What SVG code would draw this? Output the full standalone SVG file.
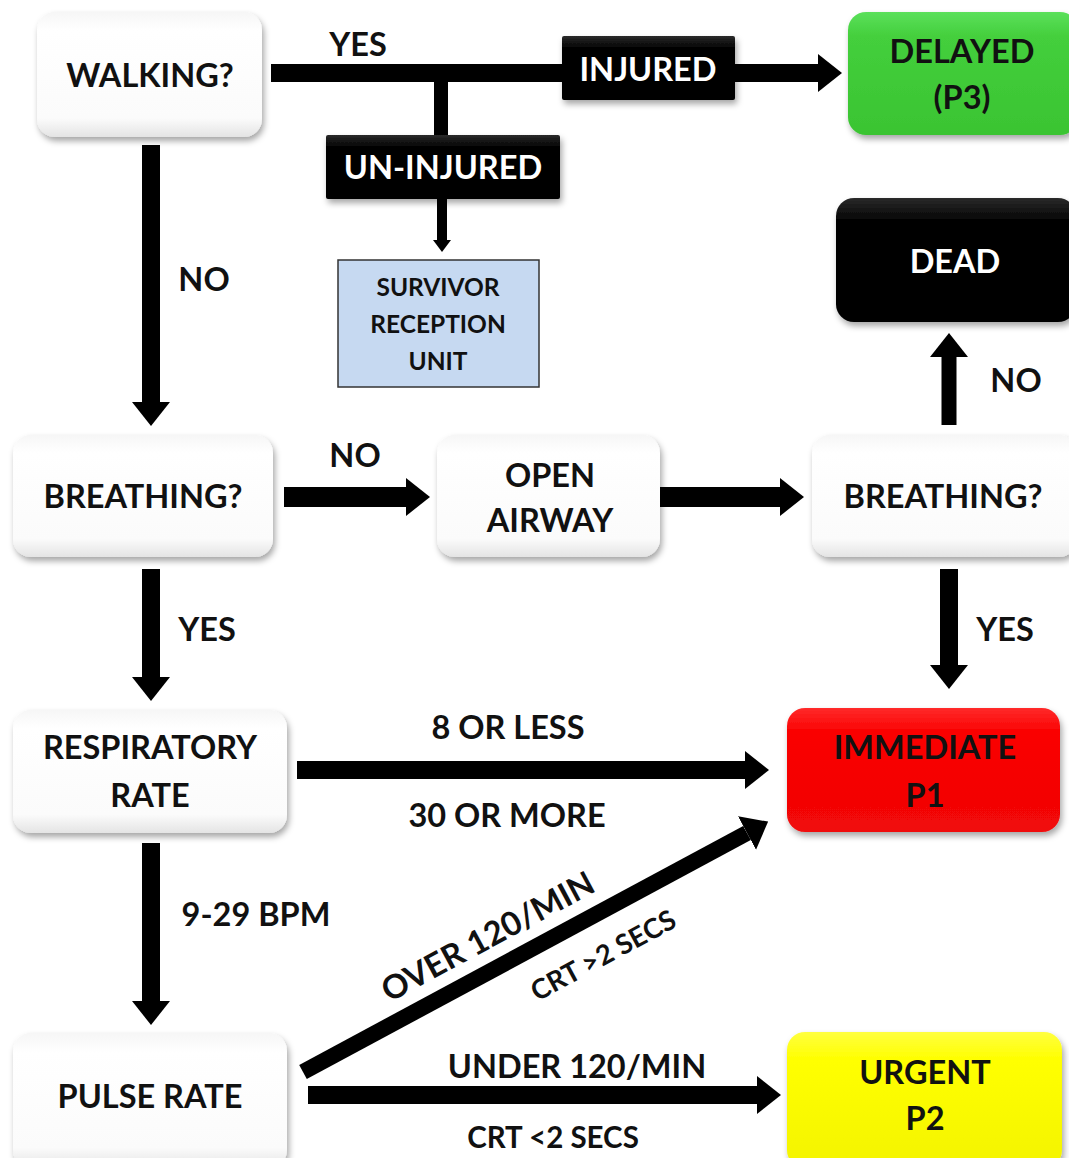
<svg xmlns="http://www.w3.org/2000/svg" width="1069" height="1158" viewBox="0 0 1069 1158">
<defs>
<style>
text{font-family:Lato,"Open Sans","Liberation Sans",sans-serif;fill:#111;text-anchor:middle;font-weight:bold}
.t{font-size:32.5px}
.lbl{font-size:32.5px}
.sm{font-size:29.5px}
.su{font-size:24.5px}
.dg{font-size:33px}
.dgs{font-size:27.5px}
.w{fill:#fff}
.box{fill:url(#gWhite);filter:url(#sh)}
.blk{fill:url(#gBlack);filter:url(#sh)}
.ln{stroke:#000;fill:none;stroke-width:18}
</style>
<linearGradient id="gWhite" x1="0" y1="0" x2="0" y2="1">
<stop offset="0" stop-color="#f6f6f6"/><stop offset="0.15" stop-color="#ffffff"/><stop offset="0.85" stop-color="#fbfbfb"/><stop offset="1" stop-color="#e4e4e4"/>
</linearGradient>
<linearGradient id="gBlack" x1="0" y1="0" x2="0" y2="1">
<stop offset="0" stop-color="#2a2a2a"/><stop offset="0.2" stop-color="#000"/><stop offset="1" stop-color="#050505"/>
</linearGradient>
<linearGradient id="gGreen" x1="0" y1="0" x2="0" y2="1">
<stop offset="0" stop-color="#5be05b"/><stop offset="0.2" stop-color="#44cf3c"/><stop offset="1" stop-color="#3ac432"/>
</linearGradient>
<linearGradient id="gRed" x1="0" y1="0" x2="0" y2="1">
<stop offset="0" stop-color="#ff2a2a"/><stop offset="0.2" stop-color="#fa0000"/><stop offset="1" stop-color="#f00808"/>
</linearGradient>
<linearGradient id="gYellow" x1="0" y1="0" x2="0" y2="1">
<stop offset="0" stop-color="#ffff40"/><stop offset="0.2" stop-color="#ffff00"/><stop offset="1" stop-color="#f4f400"/>
</linearGradient>
<filter id="sh" x="-10%" y="-10%" width="120%" height="130%">
<feDropShadow dx="2" dy="4" stdDeviation="3" flood-color="#000" flood-opacity="0.35"/>
</filter>
<marker id="ah" markerUnits="userSpaceOnUse" markerWidth="26" markerHeight="40" refX="0" refY="19" orient="auto">
<path d="M0,0 L24,19 L0,38 Z" fill="#000"/>
</marker>
<marker id="ahs" markerUnits="userSpaceOnUse" markerWidth="14" markerHeight="20" refX="0" refY="9" orient="auto">
<path d="M0,0 L12,9 L0,18 Z" fill="#000"/>
</marker>
</defs>
<rect width="1069" height="1158" fill="#fff"/>

<g id="connectors">
<line class="ln" x1="271" y1="73" x2="818" y2="73" marker-end="url(#ah)"/>
<line class="ln" x1="441" y1="73" x2="441" y2="137" style="stroke-width:14"/>
<line class="ln" x1="442" y1="199" x2="442" y2="240" style="stroke-width:10" marker-end="url(#ahs)"/>
<line class="ln" x1="151" y1="145" x2="151" y2="402" marker-end="url(#ah)"/>
<line class="ln" x1="284" y1="497" x2="406" y2="497" style="stroke-width:20" marker-end="url(#ah)"/>
<line class="ln" x1="659" y1="497" x2="780" y2="497" style="stroke-width:20" marker-end="url(#ah)"/>
<line class="ln" x1="949" y1="425" x2="949" y2="357" style="stroke-width:15" marker-end="url(#ah)"/>
<line class="ln" x1="151" y1="569" x2="151" y2="677" marker-end="url(#ah)"/>
<line class="ln" x1="949" y1="569" x2="949" y2="665" marker-end="url(#ah)"/>
<line class="ln" x1="297" y1="770" x2="745" y2="770" marker-end="url(#ah)"/>
<line class="ln" x1="151" y1="843" x2="151" y2="1001" marker-end="url(#ah)"/>
<line class="ln" x1="303" y1="1072" x2="747" y2="833" style="stroke-width:16" marker-end="url(#ah)"/>
<line class="ln" x1="308" y1="1095" x2="757" y2="1095" marker-end="url(#ah)"/>
<text class="lbl" x="358" y="56">YES</text>
<text class="lbl" x="204" y="291">NO</text>
<text class="lbl" x="355" y="467">NO</text>
<text class="lbl" x="1016" y="392">NO</text>
<text class="lbl" x="207" y="641">YES</text>
<text class="lbl" x="1005" y="641">YES</text>
<text class="lbl" x="508" y="739">8 OR LESS</text>
<text class="lbl" x="507" y="827">30 OR MORE</text>
<text class="lbl" x="256" y="926">9-29 BPM</text>
<text class="lbl" x="577" y="1078">UNDER 120/MIN</text>
<text class="sm" x="553" y="1148">CRT &lt;2 SECS</text>
<text class="dg" transform="translate(488,937) rotate(-28.3)" y="11">OVER 120/MIN</text>
<text class="dgs" transform="translate(603,955) rotate(-28.3)" y="10">CRT &gt;2 SECS</text>
</g>

<g id="walking"><rect class="box" x="37" y="12" width="225" height="125" rx="18"/><text class="t" x="150" y="87">WALKING?</text></g>
<g id="injured"><rect class="blk" x="562" y="36" width="173" height="64" rx="2"/><text class="t w" x="648" y="81">INJURED</text></g>
<g id="uninjured"><rect class="blk" x="326" y="135" width="234" height="64" rx="2"/><text class="t w" x="443" y="179">UN-INJURED</text></g>
<g id="survivor"><rect x="338" y="260" width="201" height="127" fill="#c6d9f1" stroke="#333" stroke-width="1.5"/>
<text class="su" x="438" y="296">SURVIVOR</text><text class="su" x="438" y="333">RECEPTION</text><text class="su" x="438" y="370">UNIT</text></g>
<g id="delayed"><rect x="848" y="12" width="230" height="123" rx="18" fill="url(#gGreen)" filter="url(#sh)"/><text class="t" x="962" y="63">DELAYED</text><text class="t" x="962" y="109">(P3)</text></g>
<g id="dead"><rect class="blk" x="836" y="198" width="240" height="124" rx="18"/><text class="t w" x="955" y="273">DEAD</text></g>
<g id="breathing1"><rect class="box" x="13" y="435" width="260" height="122" rx="18"/><text class="t" x="143" y="508">BREATHING?</text></g>
<g id="openairway"><rect class="box" x="437" y="435" width="223" height="122" rx="18"/><text class="t" x="550" y="487">OPEN</text><text class="t" x="550" y="532">AIRWAY</text></g>
<g id="breathing2"><rect class="box" x="812" y="435" width="265" height="122" rx="18"/><text class="t" x="943" y="508">BREATHING?</text></g>
<g id="respiratory"><rect class="box" x="13" y="710" width="274" height="123" rx="18"/><text class="t" x="150" y="759">RESPIRATORY</text><text class="t" x="150" y="807">RATE</text></g>
<g id="immediate"><rect x="787" y="708" width="273" height="124" rx="18" fill="url(#gRed)" filter="url(#sh)"/><text class="t" x="925" y="759">IMMEDIATE</text><text class="t" x="925" y="807">P1</text></g>
<g id="pulse"><rect class="box" x="13" y="1033" width="274" height="135" rx="18"/><text class="t" x="150" y="1108">PULSE RATE</text></g>
<g id="urgent"><rect x="787" y="1032" width="275" height="136" rx="18" fill="url(#gYellow)" filter="url(#sh)"/><text class="t" x="925" y="1084">URGENT</text><text class="t" x="925" y="1130">P2</text></g>
</svg>
